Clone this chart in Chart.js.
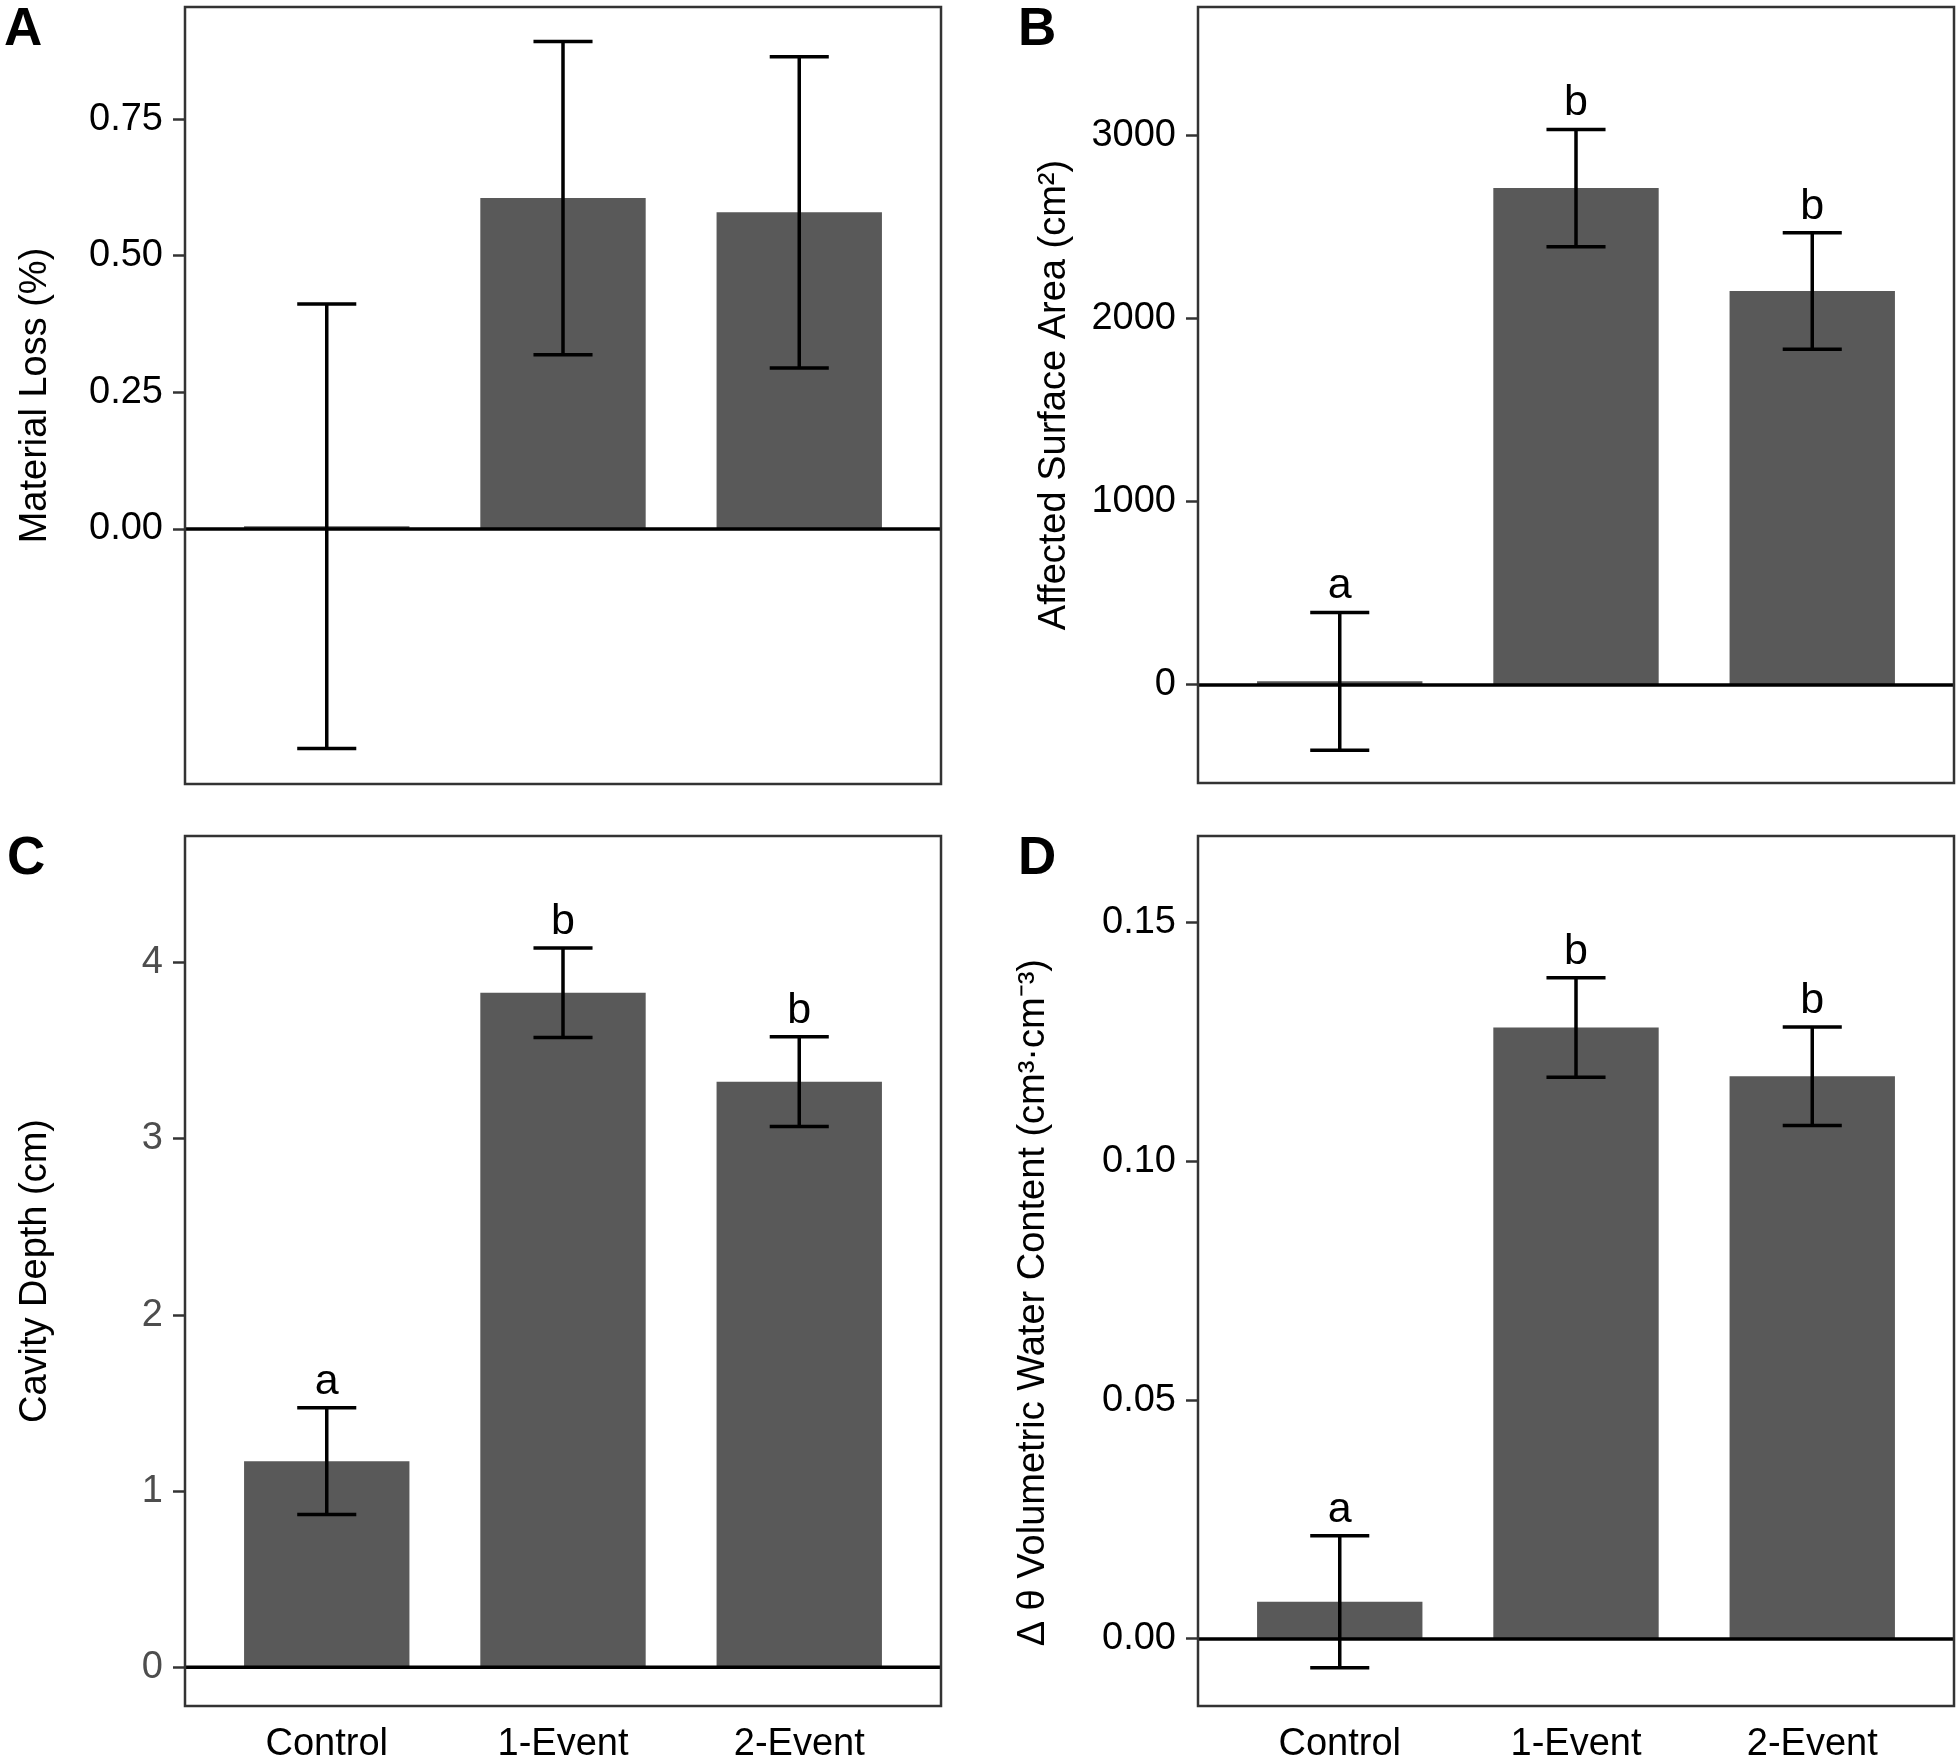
<!DOCTYPE html>
<html><head><meta charset="utf-8">
<script src="https://cdn.jsdelivr.net/npm/chart.js@4.4.1/dist/chart.umd.min.js"></script>
<style>
body{margin:0;background:#fff;width:1960px;height:1763px;position:relative;overflow:hidden;font-family:'Liberation Sans',Arial,sans-serif}
canvas{position:absolute}
.lbl{position:absolute;font:bold 53px 'Liberation Sans',Arial,sans-serif;line-height:53px;color:#000}
</style></head><body>
<canvas id="cA" width="980" height="800" style="left:0px;top:0px"></canvas>
<canvas id="cB" width="980" height="800" style="left:980px;top:0px"></canvas>
<canvas id="cC" width="980" height="963" style="left:0px;top:800px"></canvas>
<canvas id="cD" width="980" height="963" style="left:980px;top:800px"></canvas>
<div class="lbl" style="left:4px;top:0px">A</div>
<div class="lbl" style="left:1018px;top:0px">B</div>
<div class="lbl" style="left:7px;top:829px">C</div>
<div class="lbl" style="left:1018px;top:829px">D</div>
<script>
// ---- data ----
const categories = ['Control', '1-Event', '2-Event'];

const lossMean = [0.005, 0.606, 0.580];
const lossErr  = [0.407, 0.287, 0.285];
const lossTicks = [0, 0.25, 0.5, 0.75];
const lossTickLabels = ['0.00', '0.25', '0.50', '0.75'];

const areaMean = [20, 2712, 2150];
const areaErr  = [376, 320, 318];
const areaLetters = ['a', 'b', 'b'];
const areaTicks = [0, 1000, 2000, 3000];
const areaTickLabels = ['0', '1000', '2000', '3000'];

const depthMean = [1.17, 3.83, 3.325];
const depthErr  = [0.303, 0.254, 0.255];
const depthLetters = ['a', 'b', 'b'];
const depthTicks = [0, 1, 2, 3, 4];
const depthTickLabels = ['0', '1', '2', '3', '4'];

const vwcMean = [0.0078, 0.128, 0.1178];
const vwcErr  = [0.0138, 0.0104, 0.0103];
const vwcLetters = ['a', 'b', 'b'];
const vwcTicks = [0, 0.05, 0.10, 0.15];
const vwcTickLabels = ['0.00', '0.05', '0.10', '0.15'];

const FAMILY = "'Liberation Sans', Arial, sans-serif";

const panelPlugin = {
  id: 'panel',
  afterDatasetsDraw(chart, args, o) {
    const {ctx, chartArea: a, scales: {x, y}} = chart;
    ctx.save();
    ctx.lineCap = 'butt';
    // zero line
    const y0 = y.getPixelForValue(0);
    ctx.strokeStyle = '#000';
    ctx.lineWidth = 3.5;
    ctx.beginPath(); ctx.moveTo(a.left, y0); ctx.lineTo(a.right, y0); ctx.stroke();
    // error bars + letters
    const half = x.getPixelForValue(1.125) - x.getPixelForValue(1);
    ctx.font = '43px ' + FAMILY;
    ctx.fillStyle = '#000';
    ctx.textAlign = 'center';
    ctx.textBaseline = 'alphabetic';
    const mean = o.mean, err = o.err;
    for (let i = 0; i < mean.length; i++) {
      const cx = x.getPixelForValue(i + 1);
      const yt = y.getPixelForValue(mean[i] + err[i]);
      const yb = y.getPixelForValue(mean[i] - err[i]);
      ctx.beginPath();
      ctx.moveTo(cx, yt); ctx.lineTo(cx, yb);
      ctx.moveTo(cx - half, yt); ctx.lineTo(cx + half, yt);
      ctx.moveTo(cx - half, yb); ctx.lineTo(cx + half, yb);
      ctx.stroke();
      if (o.letters && o.letters[i]) ctx.fillText(o.letters[i], cx, yt - 14);
    }
    // panel frame
    ctx.strokeStyle = '#333';
    ctx.lineWidth = 2.5;
    ctx.strokeRect(a.left, a.top, a.right - a.left, a.bottom - a.top);
    ctx.restore();
  }
};

function makePanel(id, cfg) {
  new Chart(document.getElementById(id), {
    type: 'bar',
    data: {
      datasets: [{
        data: cfg.mean.map((v, i) => ({x: i + 1, y: v})),
        backgroundColor: '#595959',
        borderWidth: 0,
        categoryPercentage: 1,
        barPercentage: 0.7
      }]
    },
    options: {
      responsive: false,
      animation: false,
      devicePixelRatio: 1,
      layout: {padding: {top: cfg.padTop, right: cfg.padRight, bottom: cfg.showX ? 0 : cfg.padBottom, left: 0}},
      plugins: {
        legend: {display: false},
        tooltip: {enabled: false},
        panel: {mean: cfg.mean, err: cfg.err, letters: cfg.letters}
      },
      scales: {
        x: {
          type: 'linear', min: 0.4, max: 3.6, offset: false, bounds: 'data',
          display: cfg.showX,
          grid: {display: false, drawTicks: false},
          border: {display: false},
          afterBuildTicks: s => { s.ticks = categories.map((c, i) => ({value: i + 1})); },
          ticks: {
            callback: v => categories[Math.round(v) - 1],
            font: {size: 38, family: FAMILY}, color: '#000',
            padding: 16, maxRotation: 0, autoSkip: false
          },
          afterFit: s => { s.height = cfg.xHeight || 0; s.paddingLeft = 0; s.paddingRight = 0; }
        },
        y: {
          type: 'linear', min: cfg.min, max: cfg.max, bounds: 'data', beginAtZero: false,
          grid: {drawOnChartArea: false, drawTicks: true, tickLength: 12, tickWidth: 2.5, tickColor: '#333'},
          border: {display: false},
          afterBuildTicks: s => { s.ticks = cfg.ticks.map(v => ({value: v})); },
          ticks: {
            callback: (v, i) => cfg.tickLabels[i],
            font: {size: 38, family: FAMILY}, color: cfg.tickColor,
            padding: 10, autoSkip: false
          },
          title: {
            display: true, text: cfg.title,
            font: {size: 38, family: FAMILY}, color: '#000',
            padding: {top: cfg.titlePad, bottom: 0}
          },
          afterFit: s => { s.width = cfg.yWidth; s.paddingTop = 0; s.paddingBottom = 0; }
        }
      }
    },
    plugins: [panelPlugin]
  });
}

makePanel('cA', {
  mean: lossMean, err: lossErr, letters: null,
  ticks: lossTicks, tickLabels: lossTickLabels, tickColor: '#000',
  min: -0.467, max: 0.956, title: 'Material Loss (%)',
  padTop: 7, padRight: 39, padBottom: 16, yWidth: 185, titlePad: 12.5, showX: false
});
makePanel('cB', {
  mean: areaMean, err: areaErr, letters: areaLetters,
  ticks: areaTicks, tickLabels: areaTickLabels, tickColor: '#000',
  min: -535, max: 3700, title: 'Affected Surface Area (cm\u00B2)',
  padTop: 7, padRight: 6, padBottom: 17, yWidth: 218, titlePad: 52, showX: false
});
makePanel('cC', {
  mean: depthMean, err: depthErr, letters: depthLetters,
  ticks: depthTicks, tickLabels: depthTickLabels, tickColor: '#4d4d4d',
  min: -0.22, max: 4.72, title: 'Cavity Depth (cm)',
  padTop: 36, padRight: 39, xHeight: 57, yWidth: 185, titlePad: 12.5, showX: true
});
makePanel('cD', {
  mean: vwcMean, err: vwcErr, letters: vwcLetters,
  ticks: vwcTicks, tickLabels: vwcTickLabels, tickColor: '#000',
  min: -0.01403, max: 0.1681, title: '\u0394 \u03B8 Volumetric Water Content (cm\u00B3\u00B7cm\u207B\u00B3)      ',
  padTop: 36, padRight: 6, xHeight: 57, yWidth: 218, titlePad: 31, showX: true
});
</script>
</body></html>
